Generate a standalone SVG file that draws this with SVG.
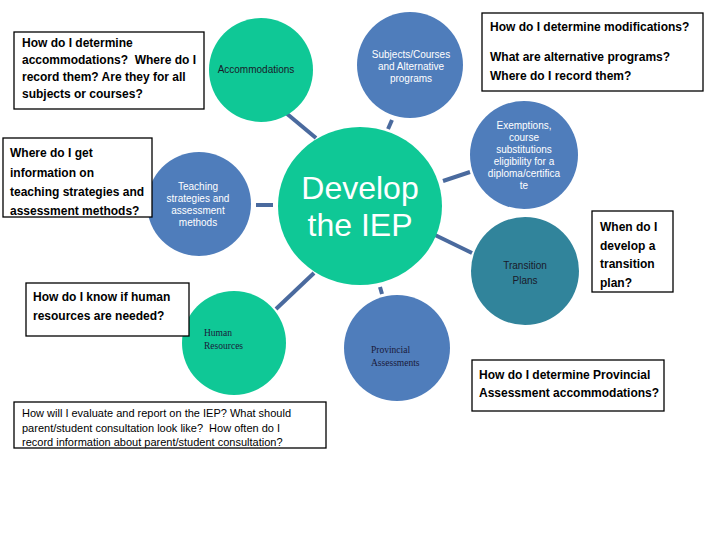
<svg xmlns="http://www.w3.org/2000/svg" width="720" height="540" viewBox="0 0 720 540">
<style>
.box{fill:#fff;stroke:#000;stroke-width:1.3}
.q{font-family:"Liberation Sans",Arial,sans-serif;font-weight:bold;font-size:12px;fill:#000;white-space:pre}
.qr{font-family:"Liberation Sans",Arial,sans-serif;font-size:11px;fill:#000;white-space:pre}
.green{fill:#0FC896}
.blue{fill:#4F7DBB}
.teal{fill:#31849B}
.wl{font-family:"Liberation Sans",Arial,sans-serif;font-size:10px;fill:#fff;text-anchor:middle}
.dl{font-family:"Liberation Sans",Arial,sans-serif;font-size:10px;fill:#1a1a2a;text-anchor:middle}
.sl{font-family:"Liberation Serif","Times New Roman",serif;font-size:9.5px;fill:#1a1a3a}
.conn line{stroke:#4A6A9E;stroke-width:4}
</style>
<rect width="720" height="540" fill="#fff"/>
<g id="connectors" class="conn">
<line x1="286" y1="113" x2="316" y2="138"/>
<line x1="256" y1="205" x2="273" y2="205"/>
<line x1="392" y1="120" x2="388" y2="129"/>
<line x1="443" y1="181" x2="470" y2="172"/>
<line x1="435" y1="235" x2="472" y2="253"/>
<line x1="276" y1="309" x2="314" y2="273"/>
<line x1="380" y1="287" x2="382" y2="294"/>
</g>
<g id="center">
<ellipse cx="360" cy="206" rx="82" ry="79" class="green"/>
<text x="360" y="199" font-family="Liberation Sans,Arial,sans-serif" font-size="32" fill="#fff" text-anchor="middle">Develop</text>
<text x="360" y="236" font-family="Liberation Sans,Arial,sans-serif" font-size="32" fill="#fff" text-anchor="middle">the IEP</text>
</g>
<g id="accommodations">
<circle cx="261" cy="70" r="52" class="green"/>
<text x="256" y="73" class="dl" font-size="9">Accommodations</text>
</g>
<g id="subjects">
<circle cx="410" cy="65" r="53" class="blue"/>
<text class="wl"><tspan x="411" y="58">Subjects/Courses</tspan><tspan x="411" y="70">and Alternative</tspan><tspan x="411" y="82">programs</tspan></text>
</g>
<g id="teaching">
<circle cx="199" cy="204" r="52" class="blue"/>
<text class="wl" font-size="9.5"><tspan x="198" y="190">Teaching</tspan><tspan x="198" y="202">strategies and</tspan><tspan x="198" y="214">assessment</tspan><tspan x="198" y="226">methods</tspan></text>
</g>
<g id="exemptions">
<circle cx="524" cy="155" r="54" class="blue"/>
<text class="wl" font-size="9.5"><tspan x="524" y="129">Exemptions,</tspan><tspan x="524" y="141">course</tspan><tspan x="524" y="153">substitutions</tspan><tspan x="524" y="165">eligibility for a</tspan><tspan x="524" y="177">diploma/certifica</tspan><tspan x="524" y="189">te</tspan></text>
</g>
<g id="transition">
<circle cx="525" cy="271" r="54" class="teal"/>
<text class="dl" font-size="10.5"><tspan x="525" y="269">Transition</tspan><tspan x="525" y="284">Plans</tspan></text>
</g>
<g id="human">
<circle cx="234" cy="343" r="52" class="green"/>
<text class="sl"><tspan x="204" y="336">Human</tspan><tspan x="204" y="349">Resources</tspan></text>
</g>
<g id="provincial">
<circle cx="397" cy="348" r="53" class="blue"/>
<text class="sl"><tspan x="371" y="353">Provincial</tspan><tspan x="371" y="366">Assessments</tspan></text>
</g>
<g id="q-accommodations">
<rect x="14" y="32" width="190" height="77" class="box"/>
<text class="q"><tspan x="22" y="47">How do I determine</tspan><tspan x="22" y="64">accommodations?  Where do I</tspan><tspan x="22" y="81">record them? Are they for all</tspan><tspan x="22" y="98">subjects or courses?</tspan></text>
</g>
<g id="q-teaching">
<rect x="3" y="138" width="149" height="79" class="box"/>
<text class="q"><tspan x="10" y="157">Where do I get</tspan><tspan x="10" y="177">information on</tspan><tspan x="10" y="196">teaching strategies and</tspan><tspan x="10" y="215">assessment methods?</tspan></text>
</g>
<g id="q-modifications">
<rect x="482" y="13" width="221" height="78" class="box"/>
<text class="q"><tspan x="490" y="31">How do I determine modifications?</tspan><tspan x="490" y="61">What are alternative programs?</tspan><tspan x="490" y="80">Where do I record them?</tspan></text>
</g>
<g id="q-transition">
<rect x="592" y="211" width="81" height="81" class="box"/>
<text class="q"><tspan x="600" y="231">When do I</tspan><tspan x="600" y="250">develop a</tspan><tspan x="600" y="268">transition</tspan><tspan x="600" y="287">plan?</tspan></text>
</g>
<g id="q-provincial">
<rect x="472" y="360" width="192" height="51" class="box"/>
<text class="q"><tspan x="479" y="379">How do I determine Provincial</tspan><tspan x="479" y="397">Assessment accommodations?</tspan></text>
</g>
<g id="q-human">
<rect x="26" y="283" width="163" height="53" class="box"/>
<text class="q"><tspan x="33" y="301">How do I know if human</tspan><tspan x="33" y="320">resources are needed?</tspan></text>
</g>
<g id="q-evaluate">
<rect x="14" y="402" width="312" height="46" class="box"/>
<text class="qr"><tspan x="22" y="417">How will I evaluate and report on the IEP? What should</tspan><tspan x="22" y="432">parent/student consultation look like?  How often do I</tspan><tspan x="22" y="446">record information about parent/student consultation?</tspan></text>
</g>
</svg>
